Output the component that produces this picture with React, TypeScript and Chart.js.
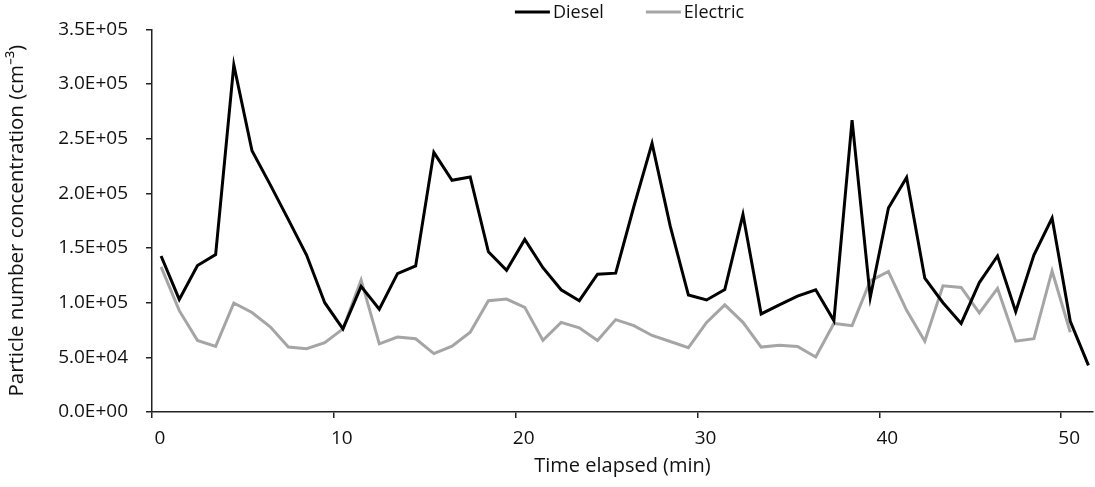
import { useEffect, useRef } from "react";
import { Chart, registerables } from "chart.js";

Chart.register(...registerables);

// Sampling times (minutes) for the two buses
const timeMin = [
  0.5, 1.5, 2.5, 3.5, 4.5, 5.5, 6.5, 7.5, 8.5, 9.5,
  10.5, 11.5, 12.5, 13.5, 14.5, 15.5, 16.5, 17.5, 18.5, 19.5,
  20.5, 21.5, 22.5, 23.5, 24.5, 25.5, 26.5, 27.5, 28.5, 29.5,
  30.5, 31.5, 32.5, 33.5, 34.5, 35.5, 36.5, 37.5, 38.5, 39.5,
  40.5, 41.5, 42.5, 43.5, 44.5, 45.5, 46.5, 47.5, 48.5, 49.5,
  50.5, 51.5,
];

// Particle number concentration (cm^-3)
const diesel = [
  142700, 103000, 134000, 144000, 317500, 239000, 208000, 176000, 143600, 100000,
  76000, 115000, 94000, 126600, 133600, 237500, 212000, 215000, 146600, 129700,
  157900, 132000, 111800, 101800, 126000, 127000, 188000, 245700, 170000, 107000,
  102500, 112000, 180600, 89700, 98000, 106000, 111800, 83600, 267000, 104800,
  186600, 214500, 122400, 100000, 81000, 118400, 142700, 91800, 143600, 177500,
  83000, 42700,
];

const electric = [
  132700, 92700, 65500, 60000, 99700, 91000, 78000, 59400, 57900, 63400,
  76000, 120600, 62400, 68500, 67000, 53400, 60300, 73000, 101800, 103300,
  95700, 65500, 82000, 77000, 65500, 84500, 79000, 70000, 64500, 58800,
  82000, 98000, 82000, 59400, 61000, 60000, 50300, 81000, 79000, 120000,
  128500, 93000, 64800, 115500, 114000, 90600, 113000, 64800, 67000, 129000,
  73000,
];

const xTickValues = [0, 10, 20, 30, 40, 50];
const seriesNames = ["Diesel", "Electric"];
const xTitle = "Time elapsed (min)";
const yTitle = "Particle number concentration (cm\u207B\u00B3)";

const FONT = "'Open Sans', sans-serif";
const INK = "#111";

// 350000 -> "3.5E+05"
function sci(v: number): string {
  const [m, e] = v.toExponential(1).split("e");
  const sign = e[0] === "-" ? "-" : "+";
  const digits = e.replace(/^[+-]/, "").padStart(2, "0");
  return `${m}E${sign}${digits}`;
}

// Legend row above the plot: short line sample followed by the series name
const lineLegend = {
  id: "lineLegend",
  afterDraw(chart: any) {
    const { ctx, chartArea } = chart;
    const sample = 35;
    const gap = 3;
    const itemGap = 42;
    ctx.save();
    ctx.font = `18px ${FONT}`;
    const items = chart.data.datasets.map((ds: any) => ({
      label: ds.label as string,
      color: ds.borderColor as string,
      width: ds.borderWidth as number,
      textW: ctx.measureText(ds.label).width,
    }));
    const total =
      items.reduce((s: number, it: any) => s + sample + gap + it.textW, 0) +
      itemGap * (items.length - 1);
    let x = (chartArea.left + chartArea.right) / 2 + 7 - total / 2;
    const y = 12;
    ctx.textBaseline = "middle";
    ctx.textAlign = "left";
    for (const it of items) {
      ctx.strokeStyle = it.color;
      ctx.lineWidth = it.width;
      ctx.beginPath();
      ctx.moveTo(x, y);
      ctx.lineTo(x + sample, y);
      ctx.stroke();
      x += sample + gap;
      ctx.fillStyle = INK;
      ctx.fillText(it.label, x, y + 1);
      x += it.textW + itemGap;
    }
    ctx.restore();
  },
};

export default function App() {
  const canvasRef = useRef<HTMLCanvasElement | null>(null);

  useEffect(() => {
    const canvas = canvasRef.current;
    if (!canvas) return;

    const toPoints = (vals: number[]) => vals.map((v, i) => ({ x: timeMin[i], y: v }));

    const axisGrid = {
      display: true,
      drawOnChartArea: false,
      drawTicks: true,
      tickLength: 6,
      color: "#222",
      lineWidth: 1.5,
    };

    const chart = new Chart(canvas, {
      type: "line",
      data: {
        datasets: [
          {
            label: seriesNames[0],
            data: toPoints(diesel),
            borderColor: "#000000",
            backgroundColor: "#000000",
            borderWidth: 3,
            pointRadius: 0,
            tension: 0,
          },
          {
            label: seriesNames[1],
            data: toPoints(electric),
            borderColor: "#a5a5a5",
            backgroundColor: "#a5a5a5",
            borderWidth: 3,
            pointRadius: 0,
            tension: 0,
          },
        ],
      },
      plugins: [lineLegend],
      options: {
        animation: false,
        responsive: true,
        maintainAspectRatio: false,
        layout: { padding: { left: 0, right: 2, top: 27, bottom: 0 } },
        plugins: {
          tooltip: { enabled: false },
          legend: { display: false },
        },
        scales: {
          x: {
            type: "linear",
            min: 0,
            max: 51.75,
            afterBuildTicks: (scale: any) => {
              scale.ticks = xTickValues.map((v) => ({ value: v }));
            },
            afterFit: (scale: any) => {
              scale.height = 75;
            },
            ticks: {
              color: INK,
              font: { family: FONT, size: 19 },
              padding: 9,
              labelOffset: 8,
              maxRotation: 0,
              autoSkip: false,
            },
            grid: axisGrid,
            border: { display: true, color: "#222", width: 1.5 },
            title: {
              display: true,
              text: xTitle,
              color: INK,
              font: { family: FONT, size: 20 },
              padding: { top: 0, bottom: 9 },
            },
          },
          y: {
            type: "linear",
            min: 0,
            max: 350000,
            afterFit: (scale: any) => {
              scale.width = 152;
            },
            ticks: {
              stepSize: 50000,
              color: INK,
              font: { family: FONT, size: 19 },
              padding: 18,
              callback: (v: any) => sci(Number(v)),
            },
            grid: axisGrid,
            border: { display: true, color: "#222", width: 1.5 },
            title: {
              display: true,
              text: yTitle,
              color: INK,
              font: { family: FONT, size: 20.5 },
              padding: { top: 5, bottom: 0 },
            },
          },
        },
      },
    });

    return () => chart.destroy();
  }, []);

  return (
    <div style={{ position: "absolute", left: 0, top: 0, width: 1095, height: 487, background: "#fff" }}>
      <canvas ref={canvasRef} />
    </div>
  );
}
